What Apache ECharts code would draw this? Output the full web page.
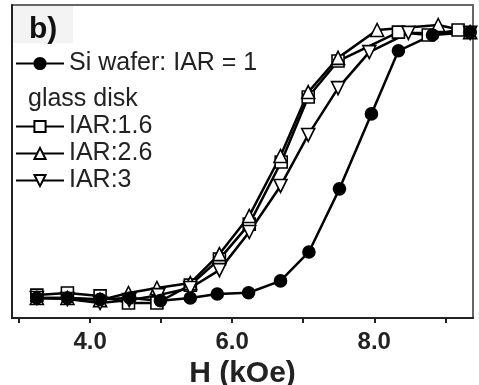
<!DOCTYPE html>
<html>
<head>
<meta charset="utf-8">
<script src="https://cdn.jsdelivr.net/npm/echarts@6/dist/echarts.min.js"></script>
<style>
  html, body { margin: 0; padding: 0; background: #fff; }
  #main { width: 479px; height: 385px; }
</style>
</head>
<body>
<div id="main"></div>
<script>
// field values (kOe) and normalised magnetisation
var siH = [3.25, 3.68, 4.14, 4.56, 4.99, 5.41, 5.79, 6.23, 6.68, 7.08, 7.51, 7.96, 8.34, 8.82, 9.35];
var siM = [0.00, 0.00, -0.005, 0.00, -0.01, 0.00, 0.015, 0.02, 0.065, 0.175, 0.415, 0.70, 0.94, 1.00, 1.01];

var g16H = [3.25, 3.68, 4.14, 4.54, 4.94, 5.41, 5.82, 6.24, 6.69, 7.07, 7.49, 8.34, 8.76, 9.18];
var g16M = [0.011, 0.019, 0.008, -0.019, -0.019, 0.049, 0.148, 0.281, 0.517, 0.764, 0.901, 1.011, 1.00, 1.019];

var g26H = [3.25, 3.68, 4.14, 4.54, 4.94, 5.41, 5.82, 6.24, 6.68, 7.07, 7.49, 8.04, 8.90, 9.35];
var g26M = [0.00, 0.00, -0.008, 0.019, 0.038, 0.057, 0.167, 0.312, 0.54, 0.783, 0.913, 1.019, 1.038, 1.011];

var g3H = [3.25, 3.68, 4.14, 4.55, 4.96, 5.41, 5.82, 6.24, 6.68, 7.07, 7.49, 7.93, 8.48, 9.35];
var g3M = [0.00, -0.004, -0.019, -0.008, 0.011, 0.038, 0.106, 0.251, 0.426, 0.62, 0.798, 0.935, 1.008, 1.008];

var majorTicks = [4, 6, 8];
var allTicks = [3, 4, 5, 6, 7, 8, 9];

function pairs(xs, ys) {
  return xs.map(function (x, i) { return [x, ys[i]]; });
}

var chart = echarts.init(document.getElementById('main'));

function lineSeries(name, xs, ys, symbol, filled, rotate) {
  return {
    name: name,
    type: 'line',
    data: pairs(xs, ys),
    symbol: symbol,
    symbolSize: symbol === 'triangle' ? 13 : 12,
    symbolRotate: rotate || 0,
    showAllSymbol: true,
    lineStyle: { color: '#000', width: 2.5 },
    itemStyle: {
      color: filled ? '#000' : '#fff',
      borderColor: '#000',
      borderWidth: 1.6
    },
    emphasis: { disabled: true },
    animation: false
  };
}

var legendText = { fontFamily: 'Liberation Sans', fontSize: 25, color: '#222', lineHeight: 25 };

var option = {
  backgroundColor: '#fff',
  animation: false,
  grid: {
    left: 12, right: 6, top: 5, bottom: 67,
    outerBoundsMode: 'none',
    containLabel: false,
    show: true, borderColor: '#666', borderWidth: 2
  },
  graphic: [
    { type: 'rect', left: 13, top: 6, shape: { width: 60, height: 37 }, style: { fill: '#f3f3f3' }, z: 1 },
    { type: 'text', left: 29, top: 15, style: { text: 'b)', font: 'bold 30px "Liberation Sans"', fill: '#111' }, z: 2 },
    { type: 'text', left: 28, top: 87, style: { text: 'glass disk', font: '25px "Liberation Sans"', fill: '#222' }, z: 2 }
  ],
  legend: [
    {
      data: ['Si wafer: IAR = 1'],
      left: 10, top: 46, orient: 'vertical',
      itemWidth: 48, itemHeight: 14,
      textStyle: legendText
    },
    {
      data: ['IAR:1.6', 'IAR:2.6', 'IAR:3'],
      left: 10, top: 109, orient: 'vertical',
      itemWidth: 48, itemHeight: 14, itemGap: 2,
      textStyle: legendText
    }
  ],
  xAxis: {
    type: 'value',
    min: 2.9, max: 9.39,
    name: 'H (kOe)',
    nameLocation: 'middle',
    nameGap: 36,
    nameTextStyle: { fontFamily: 'Liberation Sans', fontWeight: 'bold', fontSize: 30, color: '#222' },
    axisLine: { show: true, onZero: false, lineStyle: { color: '#222', width: 2 } },
    axisTick: { show: true, customValues: allTicks, length: 5, inside: false, lineStyle: { color: '#222', width: 2 } },
    axisLabel: {
      customValues: majorTicks,
      margin: 12,
      fontFamily: 'Liberation Sans', fontWeight: 'bold', fontSize: 24, color: '#222',
      formatter: function (v) { return v.toFixed(1); }
    },
    splitLine: { show: false }
  },
  yAxis: {
    type: 'value',
    min: -0.076, max: 1.114,
    axisLine: { show: true, onZero: false, lineStyle: { color: '#222', width: 2 } },
    axisTick: { show: false },
    axisLabel: { show: false },
    splitLine: { show: false }
  },
  series: [
    lineSeries('IAR:1.6', g16H, g16M, 'rect', false),
    lineSeries('IAR:2.6', g26H, g26M, 'triangle', false),
    lineSeries('IAR:3', g3H, g3M, 'triangle', false, 180),
    lineSeries('Si wafer: IAR = 1', siH, siM, 'circle', true)
  ]
};

chart.setOption(option);
</script>
</body>
</html>
